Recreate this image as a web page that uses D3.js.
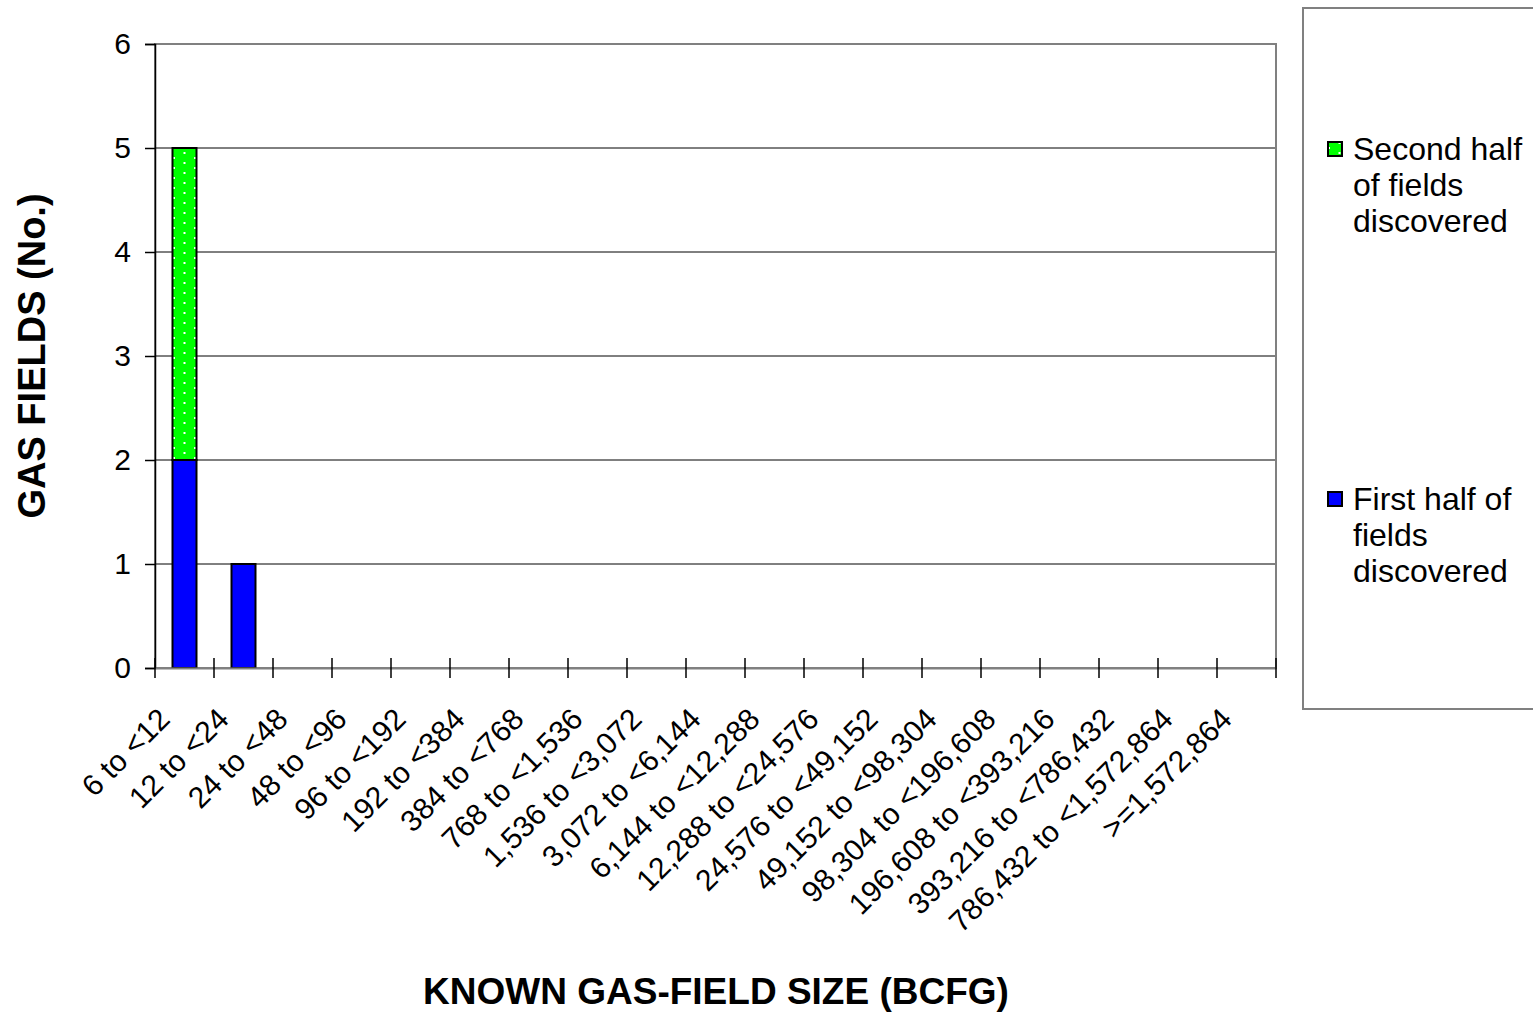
<!DOCTYPE html>
<html><head><meta charset="utf-8">
<script src="https://cdn.jsdelivr.net/npm/d3@7"></script>
<style>body{margin:0;background:#fff}svg{display:block}text{font-family:"Liberation Sans",Arial,sans-serif}</style>
</head><body><svg id="c" width="1533" height="1013"></svg>
<script>
const categories = ["6 to <12","12 to <24","24 to <48","48 to <96","96 to <192","192 to <384","384 to <768","768 to <1,536","1,536 to <3,072","3,072 to <6,144","6,144 to <12,288","12,288 to <24,576","24,576 to <49,152","49,152 to <98,304","98,304 to <196,608","196,608 to <393,216","393,216 to <786,432","786,432 to <1,572,864",">=1,572,864"];
const firstHalf = [2,1,0,0,0,0,0,0,0,0,0,0,0,0,0,0,0,0,0];
const secondHalf = [3,0,0,0,0,0,0,0,0,0,0,0,0,0,0,0,0,0,0];
const seriesNames = ["First half of fields discovered","Second half of fields discovered"];
const yTicks = [0,1,2,3,4,5,6];

const svg = d3.select("#c");
const L=155,R=1276,T=44,B=668;
const x = d3.scaleBand().domain(categories).range([L,R]).paddingInner(0).paddingOuter(0);
const y = d3.scaleLinear().domain([0,6]).range([B,T]);

const defs = svg.append("defs");
const pat = defs.append("pattern").attr("id","dots").attr("patternUnits","userSpaceOnUse")
  .attr("width",21).attr("height",10).attr("x",173).attr("y",2);
pat.append("rect").attr("width",21).attr("height",10).attr("fill","#00ff00");
pat.append("rect").attr("x",10.5).attr("y",0).attr("width",2).attr("height",2).attr("fill","#fff");
pat.append("rect").attr("x",0).attr("y",5).attr("width",2).attr("height",2).attr("fill","#fff");

// gridlines
svg.append("g").selectAll("line").data(yTicks.filter(d=>d>0&&d<6)).join("line")
  .attr("x1",L).attr("x2",R).attr("y1",d=>y(d)).attr("y2",d=>y(d)).attr("stroke","#000").attr("stroke-width",1);
// plot border
svg.append("rect").attr("x",L).attr("y",T).attr("width",R-L).attr("height",B-T)
  .attr("fill","none").attr("stroke","#808080").attr("stroke-width",2);

// bars
const stack = d3.stack().keys([0,1]).value((d,k)=>k===0?firstHalf[d]:secondHalf[d]);
const series = stack(d3.range(categories.length));
const fills = ["#0000ff","url(#dots)"];
const bw = 24;
series.forEach((s,k)=>{
  svg.append("g").selectAll("rect").data(s.filter(d=>d[1]-d[0]>0)).join("rect")
    .attr("x",d=>x(categories[d.data])+x.bandwidth()/2-bw/2)
    .attr("y",d=>y(d[1])).attr("width",bw).attr("height",d=>y(d[0])-y(d[1]))
    .attr("fill",fills[k]).attr("stroke","#000").attr("stroke-width",2);
});

// y axis
const ya = svg.append("g").attr("transform",`translate(${L},0)`)
  .call(d3.axisLeft(y).tickValues(yTicks).tickSize(10).tickPadding(14).tickFormat(d3.format("d")));
ya.select(".domain").attr("stroke","#000").attr("stroke-width",1.5);
ya.selectAll(".tick line").attr("stroke","#000").attr("stroke-width",1.5);
ya.selectAll("text").attr("font-size",30).attr("fill","#000");

// x axis
const xa = svg.append("g").attr("transform",`translate(0,${B})`)
  .call(d3.axisBottom(x).tickSize(0).tickFormat(""));
xa.select(".domain").attr("stroke","#808080").attr("stroke-width",2);
const tickPos = categories.map(c=>x(c)).concat([R]);
svg.append("g").selectAll("line").data(tickPos).join("line")
  .attr("x1",d=>d).attr("x2",d=>d).attr("y1",B-10).attr("y2",B+10).attr("stroke","#000").attr("stroke-width",1.5);

svg.append("g").selectAll("text").data(categories).join("text")
  .attr("transform",d=>`translate(${x(d)+x.bandwidth()/2-13},${B+53}) rotate(-45)`)
  .attr("text-anchor","end").attr("font-size",30).attr("fill","#000").text(d=>d);

// axis titles
svg.append("text").attr("x",716).attr("y",1004).attr("text-anchor","middle")
  .attr("font-size",37).attr("font-weight","bold").text("KNOWN GAS-FIELD SIZE (BCFG)");
svg.append("text").attr("transform","translate(45,356) rotate(-90)").attr("text-anchor","middle")
  .attr("font-size",38).attr("font-weight","bold").text("GAS FIELDS (No.)");

// legend
svg.append("rect").attr("x",1303).attr("y",8).attr("width",260).attr("height",701)
  .attr("fill","#fff").attr("stroke","#808080").attr("stroke-width",2);
const legItems = [
  {name:seriesNames[1], fill:"url(#dots)", lines:["Second half","of fields","discovered"], y:149},
  {name:seriesNames[0], fill:"#0000ff", lines:["First half of","fields","discovered"], y:499}
];
legItems.forEach(it=>{
  svg.append("rect").attr("x",1328).attr("y",it.y-7).attr("width",14).attr("height",14)
    .attr("fill",it.fill).attr("stroke","#000").attr("stroke-width",2);
  const t = svg.append("text").attr("x",1353).attr("y",it.y+11).attr("font-size",32).attr("fill","#000");
  it.lines.forEach((l,i)=>t.append("tspan").attr("x",1353).attr("dy",i===0?0:36).text(l));
});
</script></body></html>
